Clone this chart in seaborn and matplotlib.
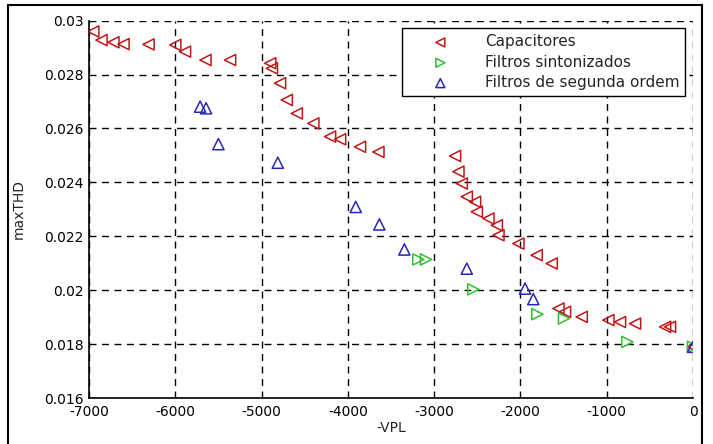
import numpy as np
import pandas as pd
import matplotlib
matplotlib.use("Agg")
import matplotlib.pyplot as plt
import seaborn as sns
from matplotlib.ticker import FuncFormatter
from matplotlib.patches import Rectangle

# capacitores (red, triangle left)
cap_x = [-6950, -6855, -6717, -6600, -6310, -6000, -5887, -5650, -5365, -4900, -4880,
         -4786, -4708, -4592, -4400, -4206, -4090, -3859, -3646,
         -2758, -2719, -2680, -2622, -2526, -2506, -2371, -2274, -2255, -2024, -1812, -1638,
         -1560, -1483, -1290, -981, -846, -672, -324, -267, 0]
cap_y = [0.0296, 0.02928, 0.0292, 0.02913, 0.02912, 0.0291, 0.02885, 0.02854, 0.02854, 0.02842, 0.02823,
         0.02768, 0.02706, 0.02656, 0.02619, 0.0257, 0.0256, 0.02532, 0.02513,
         0.02498, 0.0244, 0.02396, 0.02347, 0.02328, 0.02291, 0.02266, 0.02241, 0.02204, 0.02173, 0.0213, 0.02099,
         0.01932, 0.0192, 0.01901, 0.01889, 0.01882, 0.01876, 0.01864, 0.01864, 0.0179]

# filtros sintonizados (green, triangle right)
sint_x = [-3183, -3094, -2546, -1804, -1495, -761, 0]
sint_y = [0.02114, 0.02114, 0.02003, 0.01911, 0.01895, 0.01808, 0.0179]

# filtros de segunda ordem (blue, triangle up)
seg_x = [-5712, -5643, -5500, -4812, -3909, -3635, -3345, -2622, -1947, -1851, 0]
seg_y = [0.02681, 0.02675, 0.02542, 0.02473, 0.02309, 0.02244, 0.02151, 0.0208, 0.02006, 0.01967, 0.0179]

sns.set_style("white")
plt.rcParams['font.family'] = ['DejaVu Sans']
plt.rcParams['axes.unicode_minus'] = False

fig = plt.figure(figsize=(7.13, 4.44), dpi=100)
ax = fig.add_axes([0.1248, 0.1036, 0.972 - 0.1248, 0.9534 - 0.1036])

series = [
    (cap_x, cap_y, '<', '#c01818', 'Capacitores'),
    (sint_x, sint_y, '>', '#30c030', 'Filtros sintonizados'),
    (seg_x, seg_y, '^', '#2828b0', 'Filtros de segunda ordem'),
]
for xs, ys, m, c, lab in series:
    df = pd.DataFrame({'VPL': xs, 'THD': ys})
    sns.scatterplot(data=df, x='VPL', y='THD', marker=m, s=65, facecolor='none',
                    edgecolor=c, linewidth=1.1, label=lab, ax=ax, zorder=3)

ax.set_xlim(-7000, 0)
ax.set_ylim(0.016, 0.03)
ax.set_xticks(np.arange(-7000, 1, 1000))
ax.set_yticks([0.016, 0.018, 0.02, 0.022, 0.024, 0.026, 0.028, 0.03])
ax.yaxis.set_major_formatter(FuncFormatter(lambda v, p: '%g' % round(v, 4)))
ax.grid(True, color='black', linestyle=(0, (5, 4)), linewidth=1)
ax.tick_params(direction='in', length=4, labelsize=10, colors='black')
ax.tick_params(axis='x', pad=5)
ax.tick_params(axis='y', pad=4)
for s in ['top', 'right']:
    ax.spines[s].set_visible(False)
for s in ['left', 'bottom']:
    ax.spines[s].set_color('black')
    ax.spines[s].set_linewidth(1.2)
ax.set_xlabel('-VPL', fontsize=10)
ax.set_ylabel('maxTHD', fontsize=10)
ax.xaxis.set_label_coords(0.5, -0.062)
ax.yaxis.set_label_coords(-0.104, 0.5)

leg = ax.legend(loc='upper right', fontsize=11, frameon=True, fancybox=False,
                edgecolor='black', borderaxespad=0.5, handlelength=4.2, handletextpad=0.8,
                labelspacing=0.35, borderpad=0.4, markerscale=0.8)
leg.get_frame().set_linewidth(1)
leg.get_frame().set_alpha(1)

# outer figure border
fig.patches.append(Rectangle((8 / 713, -0.1), (702 - 8) / 713, 1.1 - 5 / 444,
                             transform=fig.transFigure, fill=False, edgecolor='black',
                             linewidth=1.5, clip_on=False))

fig.savefig('out.png', dpi=100)
